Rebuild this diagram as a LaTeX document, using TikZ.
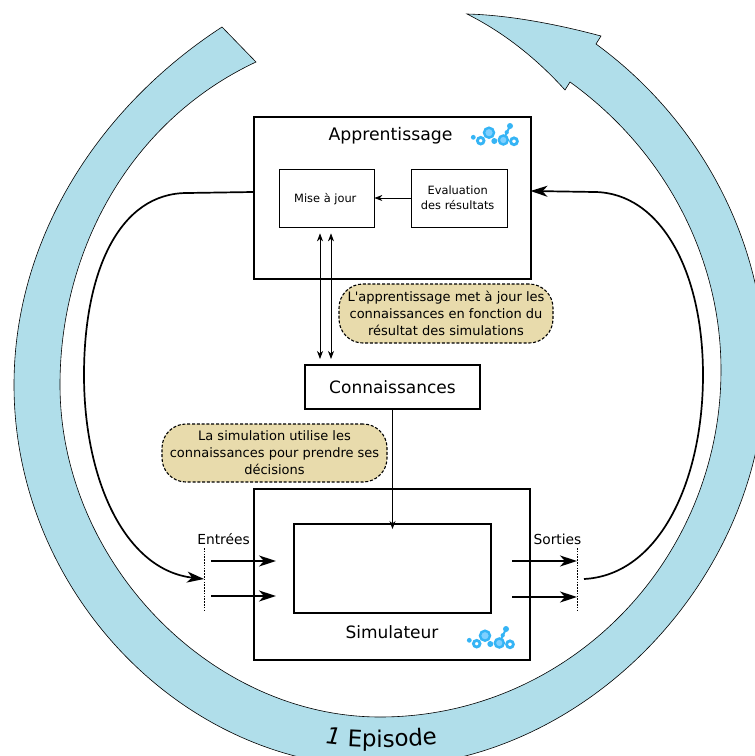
\documentclass[tikz,border=0pt]{standalone}
\usepackage{fontspec}
\setmainfont{DejaVu Sans}
\newfontfamily\plainquote{DejaVu Sans}
\usetikzlibrary{arrows.meta,decorations.text}
\definecolor{ringblue}{HTML}{B0DEEA}
\definecolor{noteback}{HTML}{E8DBAC}
\definecolor{logoblue}{HTML}{35B4F5}
\definecolor{logolight}{HTML}{7FD0FF}
\tikzset{
  thickbox/.style={draw=black,line width=2pt,fill=white,inner sep=0pt},
  thinbox/.style={draw=black,line width=.7pt,fill=white,inner sep=0pt,font=\fontsize{11.4}{15.5}\selectfont,align=center},
  notebox/.style={draw=black,line width=1.1pt,dash pattern=on 3pt off 1.8pt,fill=noteback,rounded corners=24pt,inner sep=0pt,align=center,font=\fontsize{13}{17}\selectfont},
  bigarrow/.style={line width=2pt,-{Stealth[length=17pt,width=11pt,inset=5pt]}},
  smallarrow/.style={line width=.8pt,-{Stealth[length=8pt,width=6pt,inset=2.5pt]}},
  bothsmall/.style={line width=.8pt,{Stealth[length=8pt,width=6pt,inset=2.5pt]}-{Stealth[length=8pt,width=6pt,inset=2.5pt]}},
  curvedarrow/.style={line width=1.7pt,-{Stealth[length=17pt,width=11pt,inset=5pt]}},
  cut/.style={line width=.8pt,dash pattern=on 1.6pt off 1.2pt},
  lbl/.style={font=\fontsize{13.8}{16}\selectfont,inner sep=0pt},
  logoring/.style={draw=logoblue,fill=white,line width=2.8pt},
  logodisc/.style={draw=logoblue,fill=logolight,line width=2.4pt},
  logodot/.style={fill=logoblue},
  pics/logo/.style={code={
    \draw[logoblue,line width=2pt] (14.3,7.3) -- (21,-6.7);
    \path[logodot] (-15.7,4.6) circle (2.4);
    \path[logoring] (-8.3,8) circle (3.3);
    \path[logodisc] (0,0) circle (5);
    \path[logodot] (5.3,8.3) circle (3);
    \path[logoring] (25,8.6) circle (3.4);
    \path[logodisc] (14.3,7.3) circle (4.5);
    \path[logodot] (21,-6.7) circle (3);
    \path[logodot] (17.7,-.4) circle (2.1);
  }}
}
\begin{document}
\begin{tikzpicture}[x=1pt,y=-1pt]
\useasboundingbox (0,0) rectangle (755,756);
\clip (0,0) rectangle (755,756);
% ring arrow
\draw[fill=ringblue,draw=black,line width=.6pt,line join=miter]
  (222,27) .. controls (99,107) and (14,238) .. (14,385)
  .. controls (14,591) and (182,767) .. (380,767)
  .. controls (583,767) and (765,580) .. (765,370)
  .. controls (765,241) and (700,120) .. (596,44)
  -- (601,36)
  .. controls (560,25) and (510,15) .. (467,14)
  .. controls (505,33) and (538,60) .. (565,90)
  -- (570,82)
  .. controls (663,149) and (721,255) .. (721,370)
  .. controls (721,561) and (568,717) .. (380,717)
  .. controls (210,717) and (60,561) .. (60,385)
  .. controls (60,248) and (132,120) .. (256,62)
  -- cycle;
\path[decorate,decoration={text along path,text align=center,text={|\fontsize{23}{26}\selectfont\itshape|1|\fontsize{23}{26}\selectfont| Episode}}]
  (320,743) .. controls (353,748.5) and (403,748.5) .. (443,743);
% boxes
\node[thickbox,minimum width=277pt,minimum height=162pt] (app) at (392.5,198) {};
\node[font=\fontsize{17.3}{20}\selectfont,inner sep=0pt] (apptitle) at (390.5,135.5) {Apprentissage};
\node[thinbox,minimum width=95pt,minimum height=58pt] (maj) at (326.5,198) {};
\node[font=\fontsize{11.4}{15.5}\selectfont,inner sep=0pt] (majtext) at (325.3,199.5) {Mise à jour};
\node[thinbox,minimum width=96pt,minimum height=58pt] (eval) at (459,198) {};
\node[font=\fontsize{11.4}{15.5}\selectfont,inner sep=0pt,align=center] (evaltext) at (457.7,197.5) {Evaluation\\des résultats};
\node[thickbox,minimum width=175pt,minimum height=44pt,font=\fontsize{17}{20}\selectfont] (conn) at (392.5,387) {Connaissances};
\node[notebox,minimum width=214pt,minimum height=59pt] (note1) at (446,313.5) {{\plainquote L'apprentissage} met à jour les\\connaissances en fonction du\\résultat des simulations};
\node[notebox,minimum width=225pt,minimum height=58pt] (note2) at (274.5,453) {La simulation utilise les\\connaissances pour prendre ses\\décisions};
\node[thickbox,minimum width=276pt,minimum height=171pt] (sim) at (392,574.5) {};
\node[thickbox,minimum width=197pt,minimum height=89pt] (core) at (392.5,568.5) {};
\node[font=\fontsize{17}{20}\selectfont,inner sep=0pt] (simtitle) at (392,632) {Simulateur};
\pic at (489,132.7) {logo};
\pic at (485,635.7) {logo};
% small connectors
\draw[smallarrow] (eval.west) -- (maj.east);
\draw[bothsmall,shorten <=6pt,shorten >=5pt] ([xshift=-6.5pt]maj.south) -- ([xshift=-72.5pt]conn.north);
\draw[bothsmall,shorten <=6pt,shorten >=5pt] ([xshift=4.5pt]maj.south) -- ([xshift=-61.5pt]conn.north);
\draw[smallarrow] (conn.south) -- ([yshift=-6pt]core.north);
% inputs and outputs
\coordinate (inT) at (204,548); \coordinate (inB) at (204,612); \coordinate (inM) at (204,579);
\coordinate (outT) at (577,548); \coordinate (outB) at (577,612); \coordinate (outM) at (584,579);
\coordinate (i1s) at (211,561); \coordinate (i1e) at (276,561);
\coordinate (i2s) at (211,596); \coordinate (i2e) at (276,596);
\coordinate (o1s) at (512,561); \coordinate (o1e) at (577,561);
\coordinate (o2s) at (512,597); \coordinate (o2e) at (577,597);
\draw[cut] (inT) -- (inB);
\draw[cut] (outT) -- (outB);
\draw[bigarrow] (i1s) -- (i1e);
\draw[bigarrow] (i2s) -- (i2e);
\draw[bigarrow] (o1s) -- (o1e);
\draw[bigarrow] (o2s) -- (o2e);
\node[lbl] (entrees) at (223.5,539) {Entrées};
\node[lbl] (sorties) at (557.5,539) {Sorties};
% large curved connectors
\draw[curvedarrow] (app.west |- 0,192) -- (187,193) .. controls (120,193) and (84,270) .. (84,375) .. controls (84,480) and (125,570) .. (inM);
\draw[curvedarrow,shorten >=-1.5pt] (outM) .. controls (660,575) and (703,480) .. (703,375) .. controls (703,270) and (660,193) .. (595,192) -- (app.east |- 0,191);
\end{tikzpicture}
\end{document}
